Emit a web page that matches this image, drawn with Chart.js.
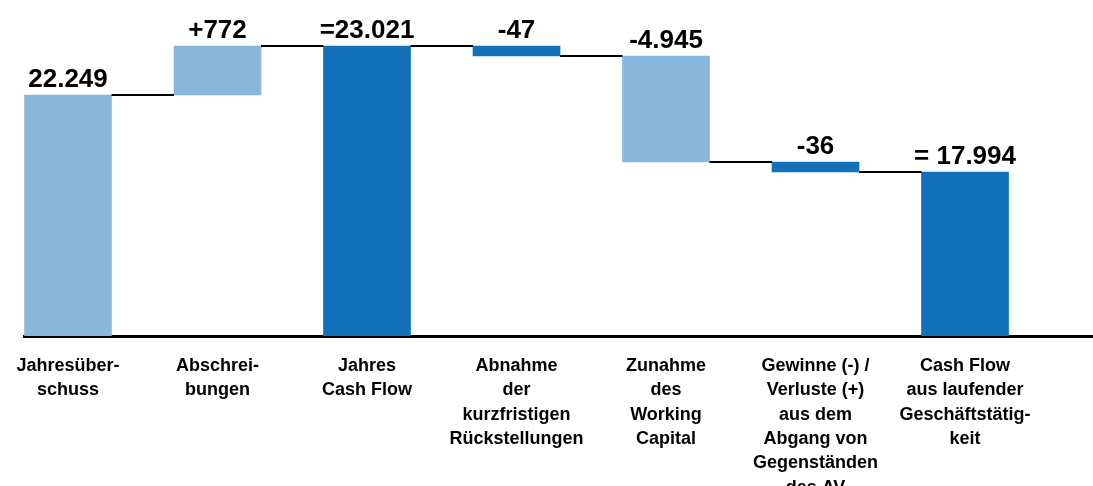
<!DOCTYPE html>
<html>
<head>
<meta charset="utf-8">
<script src="https://cdn.jsdelivr.net/npm/chart.js@4/dist/chart.umd.min.js"></script>
<style>
  html, body { margin: 0; padding: 0; background: #fff; }
  #wrap { width: 1093px; height: 486px; position: relative; }
</style>
</head>
<body>
<div id="wrap"><canvas id="c" width="1093" height="486"></canvas></div>
<script>
// Categories (multi-line labels)
const categories = [
  ["Jahresüber-", "schuss"],
  ["Abschrei-", "bungen"],
  ["Jahres", "Cash Flow"],
  ["Abnahme", "der", "kurzfristigen", "Rückstellungen"],
  ["Zunahme", "des", "Working", "Capital"],
  ["Gewinne (-) /", "Verluste (+)", "aus dem", "Abgang von", "Gegenständen", "des AV"],
  ["Cash Flow", "aus laufender", "Geschäftstätig-", "keit"]
];
// Values as printed on the chart (TEUR)
const valueLabels = ["22.249", "+772", "=23.021", "-47", "-4.945", "-36", "= 17.994"];
// Drawn bar extents (the original chart is not drawn to scale)
const barFrom = [0, 22.25, 0, 25.85, 16.06, 15.14, 0];
const barTo   = [22.25, 26.77, 26.77, 26.77, 25.85, 16.06, 15.14];
// Bar kind: 'light' or 'dark' fill
const barKind = ["light", "light", "dark", "dark", "light", "dark", "dark"];

const COLORS = { light: "#88B7DB", dark: "#1170B8" };
const FONT = "'Liberation Sans', Arial, sans-serif";

const waterfallPlugin = {
  id: "waterfallExtras",
  afterDatasetsDraw(chart) {
    const ctx = chart.ctx;
    const meta = chart.getDatasetMeta(0);
    const y = chart.scales.y;
    ctx.save();
    // connectors
    ctx.strokeStyle = "#000";
    ctx.lineWidth = 2;
    for (let i = 0; i < meta.data.length - 1; i++) {
      const a = meta.data[i], b = meta.data[i + 1];
      const endsA = [barFrom[i], barTo[i]];
      const endsB = [barFrom[i + 1], barTo[i + 1]];
      const lvl = endsA.filter(v => v !== 0 && endsB.includes(v))[0];
      if (lvl === undefined) continue;
      const py = Math.round(y.getPixelForValue(lvl));
      ctx.beginPath();
      ctx.moveTo(a.x + a.width / 2, py);
      ctx.lineTo(b.x - b.width / 2, py);
      ctx.stroke();
    }
    // value labels
    ctx.fillStyle = "#000";
    ctx.font = "bold 26px " + FONT;
    ctx.textAlign = "center";
    ctx.textBaseline = "alphabetic";
    meta.data.forEach((el, i) => {
      const top = y.getPixelForValue(Math.max(barFrom[i], barTo[i]));
      ctx.fillText(valueLabels[i], el.x, top - 8);
    });
    ctx.restore();
  }
};

new Chart(document.getElementById("c"), {
  type: "bar",
  data: {
    datasets: [{
      data: categories.map((c, i) => ({ x: i, y: [barFrom[i], barTo[i]] })),
      backgroundColor: barKind.map(k => COLORS[k]),
      borderWidth: 0,
      barThickness: 87
    }]
  },
  options: {
    responsive: false,
    animation: false,
    layout: { padding: { left: 24, right: 0, top: 0, bottom: 0 } },
    plugins: { legend: { display: false }, tooltip: { enabled: false } },
    scales: {
      x: {
        type: "linear",
        offset: false,
        min: -0.2943,
        max: 6.856,
        grid: { display: false, offset: false },
        border: { display: true, color: "#000", width: 3 },
        afterBuildTicks: axis => { axis.ticks = categories.map((c, i) => ({ value: i })); },
        afterFit: axis => { axis.height = 150; },
        ticks: {
          autoSkip: false,
          maxRotation: 0,
          minRotation: 0,
          padding: 10,
          color: "#000",
          font: { family: FONT, size: 18, weight: "bold", lineHeight: 1.35 },
          callback: v => categories[v] || ""
        }
      },
      y: {
        display: false,
        min: 0,
        max: 31.02
      }
    }
  },
  plugins: [waterfallPlugin]
});
</script>
</body>
</html>
